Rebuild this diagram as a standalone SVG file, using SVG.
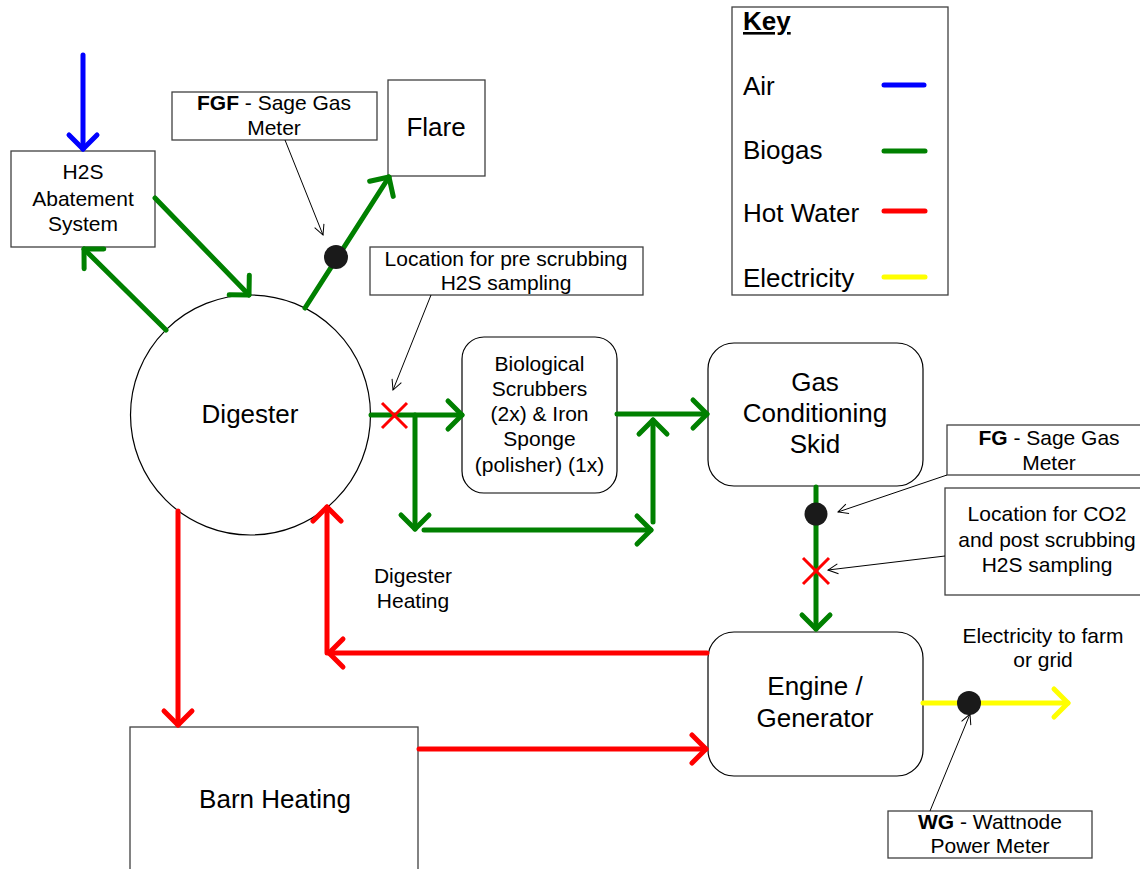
<svg xmlns="http://www.w3.org/2000/svg" width="1140" height="869" viewBox="0 0 1140 869">
<style>
text{font-family:"Liberation Sans",Arial,sans-serif;fill:#000}
.t26{font-size:26px}
.t21{font-size:21px}
.box{fill:#fff;stroke:#404040;stroke-width:1.3}
.node{fill:#fff;stroke:#000;stroke-width:1.2}
.g{stroke:#008000;stroke-width:5;stroke-linecap:round;fill:none}
.r{stroke:#ff0000;stroke-width:5;stroke-linecap:round;fill:none}
.b{stroke:#0000ff;stroke-width:5;stroke-linecap:round;fill:none}
.y{stroke:#ffff00;stroke-width:5;stroke-linecap:round;fill:none}
.ld{stroke:#000;stroke-width:1;fill:none}
.x{stroke:#ff0000;stroke-width:3;fill:none}
</style>
<defs>
<marker id="ag" markerUnits="userSpaceOnUse" viewBox="-20 -20 24 40" markerWidth="24" markerHeight="40" refX="0" refY="0" orient="auto" overflow="visible"><path d="M-14,-14 L0,0 L-14,14" fill="none" stroke="#008000" stroke-width="5" stroke-linecap="round" stroke-linejoin="round"/></marker>
<marker id="ar" markerUnits="userSpaceOnUse" viewBox="-20 -20 24 40" markerWidth="24" markerHeight="40" refX="0" refY="0" orient="auto" overflow="visible"><path d="M-14,-14 L0,0 L-14,14" fill="none" stroke="#ff0000" stroke-width="5" stroke-linecap="round" stroke-linejoin="round"/></marker>
<marker id="ab" markerUnits="userSpaceOnUse" viewBox="-20 -20 24 40" markerWidth="24" markerHeight="40" refX="0" refY="0" orient="auto" overflow="visible"><path d="M-14,-14 L0,0 L-14,14" fill="none" stroke="#0000ff" stroke-width="5" stroke-linecap="round" stroke-linejoin="round"/></marker>
<marker id="ay" markerUnits="userSpaceOnUse" viewBox="-20 -20 24 40" markerWidth="24" markerHeight="40" refX="0" refY="0" orient="auto" overflow="visible"><path d="M-14,-14 L0,0 L-14,14" fill="none" stroke="#ffff00" stroke-width="5" stroke-linecap="round" stroke-linejoin="round"/></marker>
<marker id="ak" markerUnits="userSpaceOnUse" viewBox="-12 -8 14 16" markerWidth="14" markerHeight="16" refX="0" refY="0" orient="auto" overflow="visible"><path d="M-10,-5 L0,0 L-10,5" fill="none" stroke="#000" stroke-width="1"/></marker>
</defs>
<rect width="1140" height="869" fill="#fff"/>

<g id="h2s-abatement">
<rect class="box" x="11" y="151" width="144" height="96"/>
<text class="t21" x="83" y="179" text-anchor="middle">H2S</text>
<text class="t21" x="83" y="206" text-anchor="middle">Abatement</text>
<text class="t21" x="83" y="231" text-anchor="middle">System</text>
</g>

<g id="flare">
<rect class="box" x="388" y="80" width="97" height="96"/>
<text class="t26" x="436" y="136" text-anchor="middle">Flare</text>
</g>

<g id="fgf-label">
<rect class="box" x="172" y="92" width="205" height="48"/>
<text class="t21" x="274" y="110" text-anchor="middle"><tspan font-weight="bold">FGF</tspan> - Sage Gas</text>
<text class="t21" x="274" y="135" text-anchor="middle">Meter</text>
</g>

<g id="pre-scrub-label">
<rect class="box" x="370" y="247" width="273" height="48"/>
<text class="t21" x="506" y="266" text-anchor="middle">Location for pre scrubbing</text>
<text class="t21" x="506" y="290" text-anchor="middle">H2S sampling</text>
</g>

<g id="key">
<rect class="box" x="732" y="7" width="216" height="288"/>
<text class="t26" x="743" y="30" font-weight="bold" text-decoration="underline">Key</text>
<text class="t26" x="743" y="95">Air</text>
<text class="t26" x="743" y="159">Biogas</text>
<text class="t26" x="743" y="222">Hot Water</text>
<text class="t26" x="743" y="287">Electricity</text>
<line class="b" x1="884" y1="85" x2="924" y2="85"/>
<line class="g" x1="884" y1="151" x2="925" y2="151"/>
<line class="r" x1="884" y1="211" x2="925" y2="211"/>
<line class="y" x1="884" y1="277" x2="925" y2="277"/>
</g>

<g id="digester">
<circle class="node" cx="250.5" cy="415" r="120"/>
<text class="t26" x="250" y="423" text-anchor="middle">Digester</text>
</g>

<g id="scrubbers">
<rect class="node" x="462" y="337" width="155" height="156" rx="22"/>
<text class="t21" x="539.5" y="371" text-anchor="middle">Biological</text>
<text class="t21" x="539.5" y="396" text-anchor="middle">Scrubbers</text>
<text class="t21" x="539.5" y="421" text-anchor="middle">(2x) &amp; Iron</text>
<text class="t21" x="539.5" y="446" text-anchor="middle">Sponge</text>
<text class="t21" x="539.5" y="472" text-anchor="middle">(polisher) (1x)</text>
</g>

<g id="gas-conditioning">
<rect class="node" x="708" y="343" width="215" height="143" rx="26"/>
<text class="t26" x="815" y="391" text-anchor="middle">Gas</text>
<text class="t26" x="815" y="422" text-anchor="middle">Conditioning</text>
<text class="t26" x="815" y="453" text-anchor="middle">Skid</text>
</g>

<g id="fg-label">
<rect class="box" x="947" y="425" width="205" height="50"/>
<text class="t21" x="1049" y="445" text-anchor="middle"><tspan font-weight="bold">FG</tspan> - Sage Gas</text>
<text class="t21" x="1049" y="470" text-anchor="middle">Meter</text>
</g>

<g id="co2-label">
<rect class="box" x="945" y="488" width="207" height="107"/>
<text class="t21" x="1047" y="521" text-anchor="middle">Location for CO2</text>
<text class="t21" x="1047" y="547" text-anchor="middle">and post scrubbing</text>
<text class="t21" x="1047" y="572" text-anchor="middle">H2S sampling</text>
</g>

<g id="engine">
<rect class="node" x="708" y="632" width="215" height="144" rx="26"/>
<text class="t26" x="815" y="695" text-anchor="middle">Engine /</text>
<text class="t26" x="815" y="727" text-anchor="middle">Generator</text>
</g>

<g id="electricity-label">
<text class="t21" x="1043" y="643" text-anchor="middle">Electricity to farm</text>
<text class="t21" x="1043" y="667" text-anchor="middle">or grid</text>
</g>

<g id="wg-label">
<rect class="box" x="888" y="811" width="204" height="47"/>
<text class="t21" x="990" y="829" text-anchor="middle"><tspan font-weight="bold">WG</tspan> - Wattnode</text>
<text class="t21" x="990" y="853" text-anchor="middle">Power Meter</text>
</g>

<g id="barn-heating">
<rect class="box" x="130" y="727" width="288" height="160"/>
<text class="t26" x="275" y="808" text-anchor="middle">Barn Heating</text>
</g>

<g id="digester-heating-label">
<text class="t21" x="413" y="583" text-anchor="middle">Digester</text>
<text class="t21" x="413" y="608" text-anchor="middle">Heating</text>
</g>

<g id="connectors">
<line class="b" x1="83" y1="55" x2="83" y2="149" marker-end="url(#ab)"/>
<line class="g" x1="155" y1="198" x2="249" y2="295" marker-end="url(#ag)"/>
<line class="g" x1="166" y1="330" x2="84" y2="249" marker-end="url(#ag)"/>
<line class="g" x1="305" y1="308" x2="389" y2="177" marker-end="url(#ag)"/>
<line class="g" x1="371" y1="415" x2="462" y2="415" marker-end="url(#ag)"/>
<line class="g" x1="415" y1="415" x2="415" y2="529" marker-end="url(#ag)"/>
<line class="g" x1="424" y1="530" x2="651" y2="530" marker-end="url(#ag)"/>
<line class="g" x1="653" y1="522" x2="653" y2="420" marker-end="url(#ag)"/>
<line class="g" x1="617" y1="414" x2="707" y2="414" marker-end="url(#ag)"/>
<line class="g" x1="816" y1="487" x2="816" y2="629" marker-end="url(#ag)"/>
<line class="r" x1="178" y1="511" x2="178" y2="725" marker-end="url(#ar)"/>
<line class="r" x1="707" y1="653" x2="329" y2="653" marker-end="url(#ar)"/>
<line class="r" x1="327" y1="653" x2="327" y2="507" marker-end="url(#ar)"/>
<line class="r" x1="419" y1="749" x2="706" y2="749" marker-end="url(#ar)"/>
<line class="y" x1="923" y1="703" x2="1068" y2="703" marker-end="url(#ay)"/>
<line class="ld" x1="285" y1="140" x2="323" y2="235" marker-end="url(#ak)"/>
<line class="ld" x1="431" y1="295" x2="393" y2="390" marker-end="url(#ak)"/>
<line class="ld" x1="947" y1="475" x2="838" y2="512" marker-end="url(#ak)"/>
<line class="ld" x1="945" y1="556" x2="828" y2="570" marker-end="url(#ak)"/>
<line class="ld" x1="930" y1="811" x2="970" y2="714" marker-end="url(#ak)"/>
<circle cx="336" cy="257" r="12" fill="#1a1a1a"/>
<circle cx="816" cy="514" r="11.5" fill="#1a1a1a"/>
<circle cx="969" cy="703" r="12" fill="#1a1a1a"/>
<path class="x" d="M382,403 L407,428 M407,403 L382,428"/>
<path class="x" d="M803,558 L829,584 M829,558 L803,584"/>
</g>
</svg>
